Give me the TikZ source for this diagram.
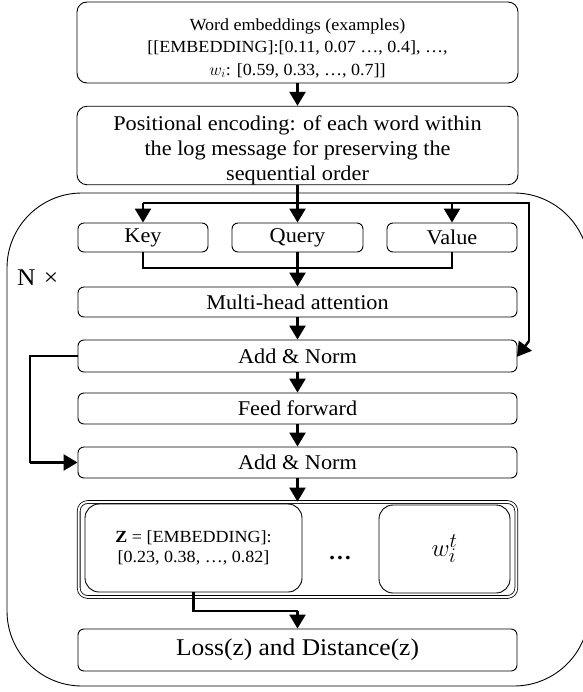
\documentclass[tikz,border=0pt]{standalone}
\usepackage{fontspec}
\setmainfont{Liberation Serif}[FakeStretch=1.06]
\usetikzlibrary{arrows.meta}
\begin{document}
\begin{tikzpicture}[x=1pt,y=-1pt,
  box/.style={draw,line width=0.9pt,rounded corners=6pt,inner sep=0pt,align=center},
  fa/.style={font=\fontsize{21}{25}\selectfont},
  fs/.style={font=\fontsize{17}{22.5}\selectfont},
  arr/.style={line width=2.4pt,-{Triangle[length=14pt,width=16pt]}},
  ln/.style={line width=2.4pt}]
\useasboundingbox (0,0) rectangle (582,692);
% outer frame
\node[draw,line width=0.9pt,rounded corners=75pt,minimum width=582pt,minimum height=493pt,inner sep=0pt] (outer) at (298,439.5) {};
\node[font=\fontsize{24}{26}\selectfont,anchor=west,inner sep=0pt] (nx) at (17,278) {N\hspace{0.35em}×};
% boxes
\node[box,fs,minimum width=441pt,minimum height=81pt,rounded corners=10pt] (we) at (297.5,42.5)
  {\rule{0pt}{23pt}Word embeddings (examples)\\{}{[}[EMBEDDING]:[0.11, 0.07 …, 0.4], …,\\{}$w_i$: [0.59, 0.33, …, 0.7]]};
\node[box,fa,minimum width=441pt,minimum height=75pt,rounded corners=10pt] (pe) at (297.5,145.5)
  {\rule{0pt}{24pt}Positional encoding: of each word within\\ the log message for preserving the\\ sequential order};
\node[box,fa,minimum width=130pt,minimum height=29pt] (key) at (143,237.5) {Key};
\node[box,fa,minimum width=131pt,minimum height=29pt] (qry) at (297.5,237.5) {Query};
\node[box,fa,minimum width=130pt,minimum height=29pt] (val) at (452,237.5) {Value};
\node[box,fa,minimum width=439pt,minimum height=30pt] (mha) at (297.5,302) {Multi-head attention};
\node[box,fa,minimum width=439pt,minimum height=32pt] (an1) at (297.5,356) {Add \& Norm};
\node[box,fa,minimum width=439pt,minimum height=31pt] (ff) at (297.5,408.5) {Feed forward};
\node[box,fa,minimum width=439pt,minimum height=31pt] (an2) at (297.5,462.5) {Add \& Norm};
\node[draw,double,double distance=2pt,line width=0.8pt,rounded corners=9pt,minimum width=437.6pt,minimum height=95pt,inner sep=0pt] (dbl) at (297.5,549.5) {};
\node[box,minimum width=217pt,minimum height=88pt,rounded corners=14pt,font=\fontsize{17}{19.5}\selectfont] (zb) at (193.5,548)
  {\textbf{Z} = [EMBEDDING]:\\{}{[}0.23, 0.38, …, 0.82]};
\node[box,minimum width=131pt,minimum height=88pt,rounded corners=14pt,font=\fontsize{30}{32}\selectfont] (wb) at (444.5,549) {$w_i^t$};
\node[font=\fontsize{22}{24}\selectfont\bfseries] (dots) at (340,558) {…};
\node[box,minimum width=439pt,minimum height=42pt,font=\fontsize{24}{28}\selectfont] (loss) at (297.5,650) {Loss(z) and Distance(z)};
% connectors
\draw[arr] (we.south) -- (pe.north);
\coordinate (j1) at (297.5,203);
\coordinate (jl) at (143,203);
\coordinate (jr) at (529,203);
\coordinate (jv) at (452,203);
\coordinate (jd) at (529,341);
\draw[ln] (pe.south) -- (j1);
\draw[ln] (jl) -- (jr) -- (jd);
\draw[arr] (jl) -- (key.north);
\draw[arr] (j1) -- (qry.north);
\draw[arr] (jv) -- (val.north);
\draw[arr,shorten >=-1pt] (jd) -- (an1.east);
\coordinate (kb) at (143,268);
\coordinate (vb) at (452,268);
\draw[ln] (key.south) -- (kb) -- (vb) -- (val.south);
\draw[arr] (qry.south) -- (mha.north);
\draw[arr] (mha.south) -- (an1.north);
\draw[arr] (an1.south) -- (ff.north);
\draw[arr] (ff.south) -- (an2.north);
\draw[arr] (an2.south) -- (dbl.north);
\coordinate (s1) at (30,356);
\coordinate (s2) at (30,462.5);
\draw[ln] (an1.west) -- (s1) -- (s2);
\draw[arr] (s2) -- (an2.west);
\coordinate (z1) at (193.5,611);
\coordinate (z2) at (297.5,611);
\draw[ln] (zb.south) -- (z1) -- (z2);
\draw[arr] (z2) -- (loss.north);
\end{tikzpicture}
\end{document}
